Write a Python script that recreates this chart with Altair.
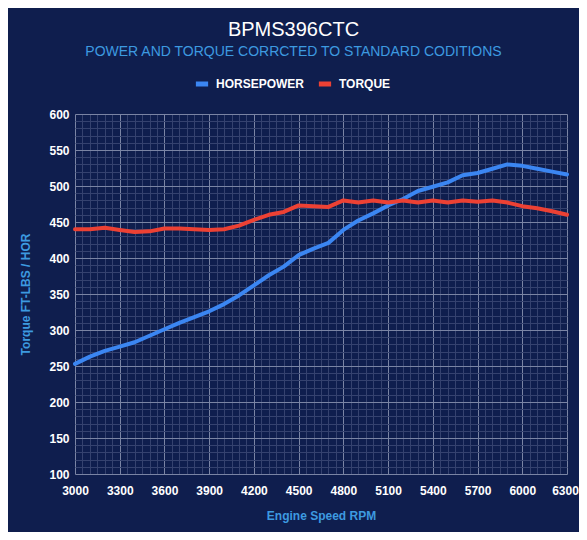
import altair as alt
import pandas as pd

rpm = [3000, 3100, 3200, 3300, 3400, 3500, 3600, 3700, 3800, 3900,
       4000, 4100, 4200, 4300, 4400, 4500, 4600, 4700, 4800, 4900,
       5000, 5100, 5200, 5300, 5400, 5500, 5600, 5700, 5800, 5900,
       6000, 6100, 6200, 6300]
horsepower = [253, 263, 271, 277, 283, 292, 301, 310, 318, 326,
              336, 348, 362, 376, 388, 404, 413, 421, 439, 452,
              462, 473, 482, 493, 499, 505, 515, 518, 524, 530,
              528, 524, 520, 516]
torque = [440, 440, 442, 439, 436, 437, 441, 441, 440, 439,
          440, 445, 453, 460, 464, 473, 472, 471, 480, 477,
          480, 477, 480, 477, 480, 477, 480, 478, 480, 477,
          472, 469, 465, 460]
series_names = ["HORSEPOWER", "TORQUE"]
series_colors = ["#3b86f2", "#ec4134"]

x_grid = list(range(3000, 6301, 50))
y_grid = list(range(100, 601, 10))

df = pd.DataFrame({
    "rpm": rpm + rpm,
    "value": horsepower + torque,
    "series": [series_names[0]] * len(rpm) + [series_names[1]] * len(rpm),
})

BG = "#0f1e4e"
MAJOR = "#7a84a4"
MINOR = "#35426f"
LIGHTBLUE = "#3d9ae0"

x_axis = alt.Axis(
    values=x_grid,
    labelExpr="(datum.value - 3000) % 300 === 0 ? datum.label : ''",
    format="d",
    labelOverlap=False,
    labelFlush=False,
    labelOffset={"condition": {"test": "datum.value === 6300", "value": -2}, "value": 0},
    ticks=False,
    domain=False,
    labelPadding=11,
    labelColor="white",
    labelFontSize=12,
    labelFontWeight="bold",
    gridColor={"condition": {"test": "(datum.value - 3000) % 300 === 0", "value": MAJOR}, "value": MINOR},
    gridWidth=1,
    title="Engine Speed RPM",
    titleColor=LIGHTBLUE,
    titleFontSize=12,
    titleFontWeight="bold",
    titlePadding=14,
)

y_axis = alt.Axis(
    values=y_grid,
    labelExpr="datum.value % 50 === 0 ? datum.label : ''",
    format="d",
    labelOverlap=False,
    labelFlush=False,
    ticks=False,
    domain=False,
    labelPadding=6,
    labelColor="white",
    labelFontSize=12,
    labelFontWeight="bold",
    gridColor={"condition": {"test": "datum.value % 50 === 0", "value": MAJOR}, "value": MINOR},
    gridWidth=1,
    title="Torque FT-LBS / HOR",
    titleColor=LIGHTBLUE,
    titleFontSize=12,
    titleFontWeight="bold",
    titlePadding=16,
)

chart = alt.Chart(df).mark_line(strokeWidth=4, strokeJoin="round", strokeCap="round").encode(
    x=alt.X("rpm:Q", scale=alt.Scale(domain=[3000, 6300], nice=False, zero=False), axis=x_axis),
    y=alt.Y("value:Q", scale=alt.Scale(domain=[100, 600], nice=False, zero=False), axis=y_axis),
    color=alt.Color(
        "series:N",
        scale=alt.Scale(domain=series_names, range=series_colors),
        sort=series_names,
        legend=alt.Legend(
            orient="none",
            legendX=118,
            legendY=-39,
            direction="horizontal",
            title=None,
            labelColor="white",
            labelFontSize=12,
            labelFontWeight="bold",
            symbolType="stroke",
            symbolStrokeWidth=5,
            symbolSize=150,
            labelOffset=5,
            columnPadding=3,
        ),
    ),
).properties(
    width=492,
    height=360,
    autosize=alt.AutoSizeParams(type="none"),
    padding={"left": 67, "top": 106, "right": 12, "bottom": 58},
    title=alt.Title(
        "BPMS396CTC",
        subtitle="POWER AND TORQUE CORRCTED TO STANDARD CODITIONS",
        color="white",
        fontSize=20,
        fontWeight="normal",
        subtitleColor=LIGHTBLUE,
        subtitleFontSize=14,
        subtitlePadding=5,
        anchor="middle",
        dx=-27.5,
        offset=16,
    ),
).configure(
    background=BG,
    font="Liberation Sans",
).configure_view(
    stroke="transparent",
)

chart.save("out.html", embed_options={"renderer": "svg", "actions": False})
